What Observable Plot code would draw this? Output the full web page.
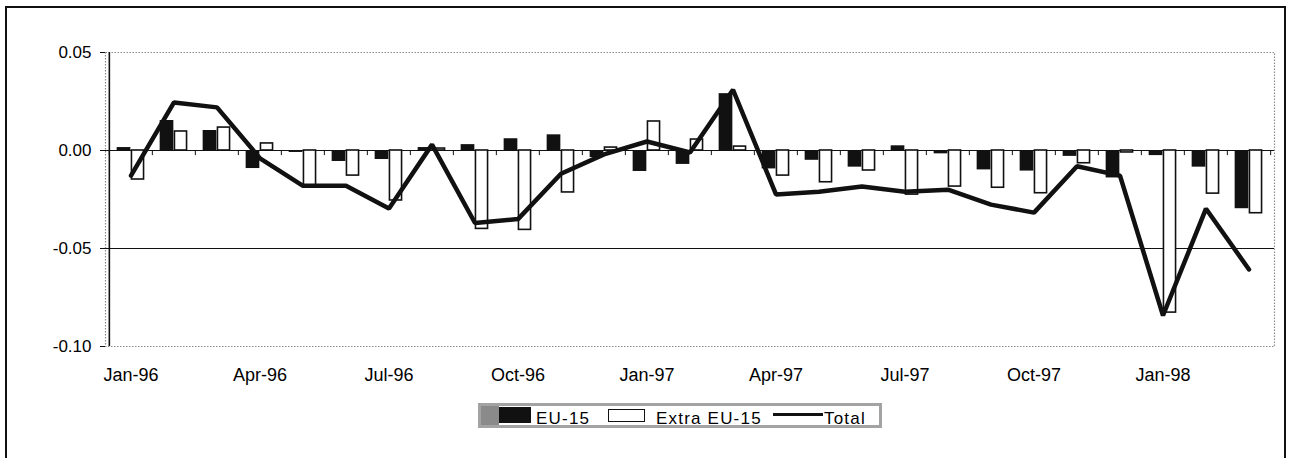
<!DOCTYPE html>
<html><head><meta charset="utf-8">
<script src="https://cdn.jsdelivr.net/npm/d3@7"></script>
<script src="https://cdn.jsdelivr.net/npm/@observablehq/plot@0.6"></script>
<style>
body{margin:0;background:#fff;}
#wrap{position:relative;width:1289px;height:458px;overflow:hidden;font-family:"Liberation Sans",Arial,sans-serif;}
#border{position:absolute;left:5px;top:6px;width:1277px;height:480px;border:2px solid #111;pointer-events:none;}
#legendbox{position:absolute;left:478px;top:403px;width:398px;height:19px;border:3px solid #a3a3a3;background:#fff;}
.lg{position:absolute;font-size:17px;line-height:24px;letter-spacing:1.2px;color:#000;top:407px;white-space:nowrap;}
.sw{position:absolute;}
</style>
</head><body>
<div id="wrap">
  <div id="chart"></div>
  <div id="border"></div>
  <div id="legendbox"></div>
  <div class="sw" style="left:481px;top:406px;width:18px;height:19px;background:#8a8a8a;"></div>
  <div class="sw" style="left:499px;top:407px;width:32px;height:16px;background:#111;"></div>
  <div class="lg" style="left:536px;">EU-15</div>
  <div class="sw" style="left:608px;top:409px;width:35px;height:11px;border:1.5px solid #111;background:#fff;"></div>
  <div class="lg" style="left:656px;">Extra EU-15</div>
  <div class="sw" style="left:773px;top:413px;width:50px;height:3px;background:#111;"></div>
  <div class="lg" style="left:824px;">Total</div>
</div>
<script>
const months = ["Jan-96","Feb-96","Mar-96","Apr-96","May-96","Jun-96","Jul-96","Aug-96","Sep-96","Oct-96","Nov-96","Dec-96",
  "Jan-97","Feb-97","Mar-97","Apr-97","May-97","Jun-97","Jul-97","Aug-97","Sep-97","Oct-97","Nov-97","Dec-97",
  "Jan-98","Feb-98","Mar-98"];
const eu15 = [0.0015, 0.0153, 0.0102, -0.0092, -0.001, -0.0056, -0.0046, 0.0015, 0.003, 0.006, 0.008, -0.0036,
  -0.0107, -0.0071, 0.029, -0.0094, -0.005, -0.0085, 0.0024, -0.0017, -0.0099, -0.0105, -0.003, -0.014,
  -0.0026, -0.0085, -0.0297];
const extraEu15 = [-0.0148, 0.0097, 0.0117, 0.0036, -0.018, -0.0128, -0.0255, 0.001, -0.040, -0.0405, -0.0214, 0.0015,
  0.0148, 0.0056, 0.002, -0.0128, -0.0162, -0.0102, -0.0225, -0.0184, -0.019, -0.0218, -0.0065, -0.001,
  -0.0827, -0.022, -0.032];
const total = [-0.0128, 0.0245, 0.022, -0.004, -0.018, -0.018, -0.0296, 0.003, -0.037, -0.035, -0.0119, -0.002,
  0.0046, -0.001, 0.031, -0.0224, -0.021, -0.0184, -0.021, -0.020, -0.0276, -0.0317, -0.008, -0.0128,
  -0.0842, -0.0297, -0.0607];
const yTicks = [0.05, 0.00, -0.05, -0.10];
const xTickLabels = months.filter((d, i) => i % 3 === 0);

const W = 1289, H = 458, ML = 105, MR = 15, MT = 52, MB = 112;
const bw = (W - ML - MR) / months.length;
const barW = 14;

const rows = months.map((m, i) => ({month: m, eu: eu15[i], extra: extraEu15[i], total: total[i]}));

const chart = Plot.plot({
  width: W, height: H,
  marginLeft: ML, marginRight: MR, marginTop: MT, marginBottom: MB,
  style: {fontFamily: '"Liberation Sans", Arial, sans-serif', fontSize: "17px", background: "#fff", color: "#000"},
  x: {type: "band", domain: months, padding: 0, label: null},
  y: {domain: [-0.10, 0.05], label: null},
  marks: [
    Plot.frame({stroke: "#8c8c8c", strokeDasharray: "1.5,1.5", strokeWidth: 1.2}),
    Plot.ruleY([0, -0.05], {stroke: "#111", strokeWidth: 1.2}),
    Plot.ruleX(months, {x: d => d, y1: 0, y2: -0.0026, dx: -bw / 2, stroke: "#111", strokeWidth: 1}),
    Plot.ruleX([months[months.length - 1]], {x: d => d, y1: 0, y2: -0.0026, dx: bw / 2, stroke: "#111", strokeWidth: 1}),
    Plot.barY(rows, {x: "month", y: "eu", fill: "#111",
      insetLeft: bw / 2 - barW, insetRight: bw / 2}),
    Plot.barY(rows, {x: "month", y: "extra", fill: "#fff", stroke: "#111", strokeWidth: 1.6,
      insetLeft: bw / 2 + 0.8, insetRight: bw / 2 - barW + 0.8}),
    Plot.line(rows, {x: "month", y: "total", stroke: "#111", strokeWidth: 4.5, strokeLinejoin: "miter"}),
    Plot.ruleX([months[0]], {x: d => d, y1: -0.10, y2: 0.05, dx: -bw / 2, stroke: "#111", strokeWidth: 1.6}),
    Plot.axisY(yTicks, {tickSize: 5, tickPadding: 9, tickFormat: d => d.toFixed(2), fontSize: 17,
      style: "letter-spacing:1.2px", stroke: "#111"}),
    Plot.axisX(xTickLabels, {tickSize: 0, tickPadding: 22, fontSize: 18, style: "letter-spacing:0.8px"})
  ]
});
document.getElementById("chart").appendChild(chart);
</script>
</body></html>
